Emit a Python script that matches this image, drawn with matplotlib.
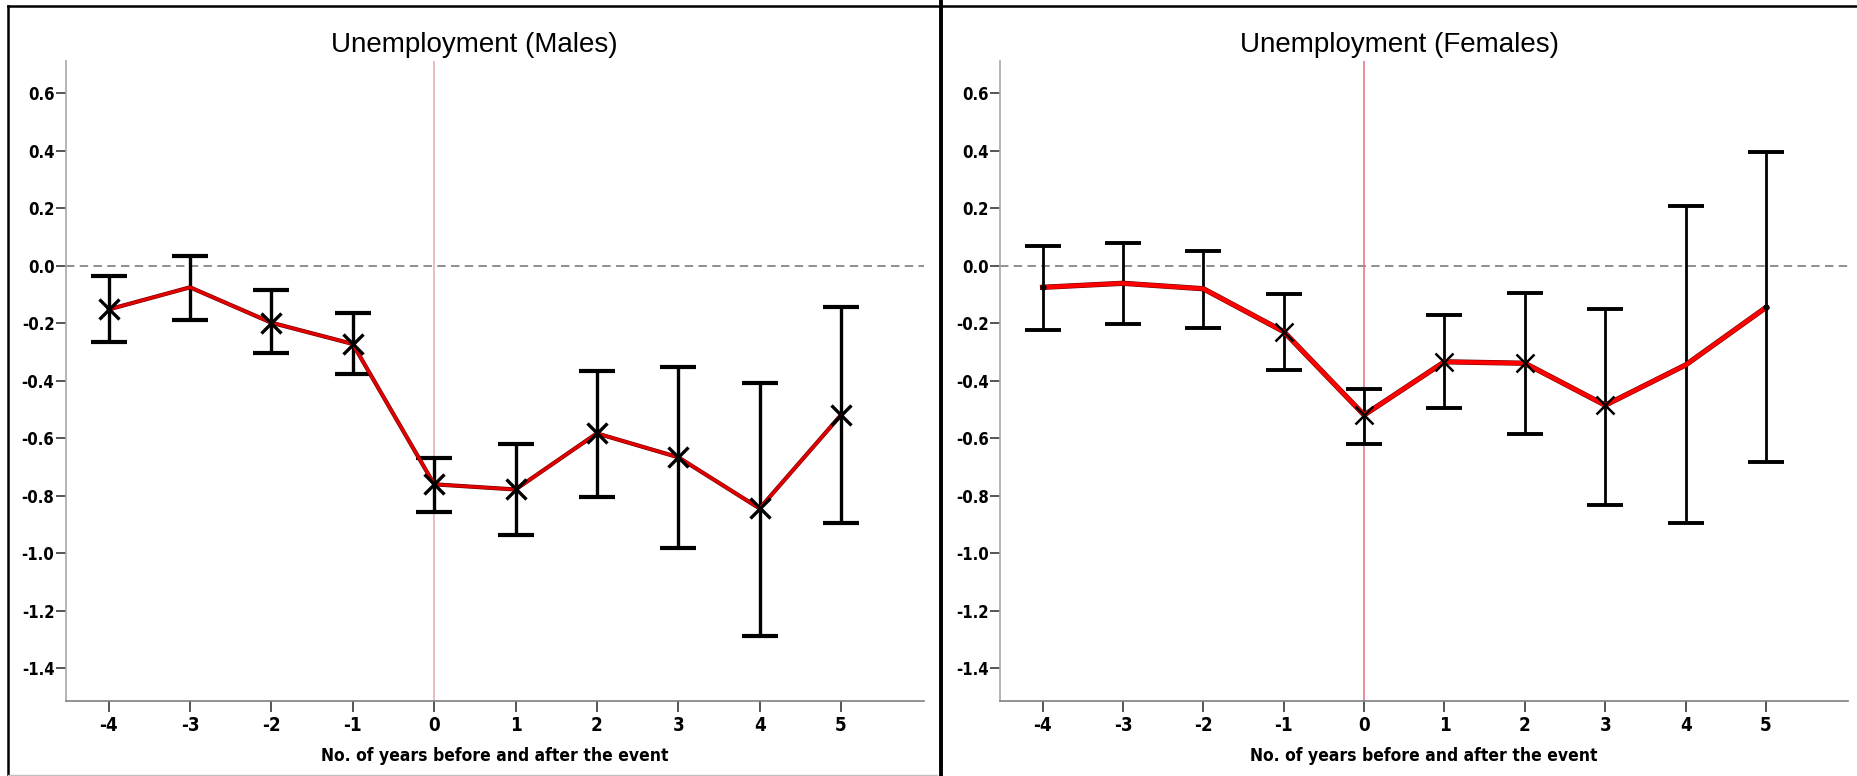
import matplotlib
matplotlib.use("Agg")
import matplotlib.pyplot as plt
import numpy as np
from matplotlib.lines import Line2D
from matplotlib import font_manager

years = [-4, -3, -2, -1, 0, 1, 2, 3, 4, 5]
yticks = [0.6, 0.4, 0.2, 0.0, -0.2, -0.4, -0.6, -0.8, -1.0, -1.2, -1.4]

male_est = [-0.152, -0.075, -0.198, -0.272, -0.760, -0.778, -0.583, -0.666, -0.844, -0.519]
male_lo = [-0.266, -0.189, -0.302, -0.377, -0.855, -0.936, -0.805, -0.980, -1.287, -0.896]
male_hi = [-0.036, 0.034, -0.085, -0.166, -0.670, -0.621, -0.366, -0.353, -0.406, -0.143]

fem_est = [-0.075, -0.061, -0.080, -0.229, -0.519, -0.334, -0.339, -0.485, -0.345, -0.145]
fem_lo = [-0.224, -0.203, -0.218, -0.363, -0.620, -0.494, -0.586, -0.832, -0.895, -0.684]
fem_hi = [0.070, 0.078, 0.051, -0.099, -0.430, -0.171, -0.094, -0.152, 0.209, 0.394]

# which points carry a cross marker / a small dot (as in the source)
male_cross = [-4, -2, -1, 0, 1, 2, 3, 4, 5]
fem_cross = [-1, 0, 1, 2, 3]
fem_dot = [-4, 5]

W, H = 1858, 776

# condensed bold face for the axis texts, if the condensed DejaVu file is there
cond = [f.fname for f in font_manager.fontManager.ttflist
        if f.name == "DejaVu Sans" and "Condensed" in f.fname and "Bold" in f.fname
        and "Oblique" not in f.fname]
if cond:
    NARROW = dict(fontproperties=font_manager.FontProperties(fname=cond[0]))
else:
    NARROW = dict(family="DejaVu Sans", fontweight="bold")


def fx(px):
    return px / W


def fy(py):
    return 1 - py / H


def txt(size):
    d = dict(NARROW)
    if "fontproperties" in d:
        fp = d["fontproperties"].copy()
        fp.set_size(size)
        return dict(fontproperties=fp)
    d["fontsize"] = size
    return d


def draw_panel(ax, est, lo, hi, line_lw, line_color, e_lw, cap_lw, vcolor):
    est = np.array(est)
    yerr = [est - np.array(lo), np.array(hi) - est]
    ax.axhline(0, color="#707070", lw=1.1, ls=(0, (5.5, 3.5)), zorder=1)
    ax.axvline(0, color=vcolor, lw=1.1, zorder=1)
    ax.errorbar(years, est, yerr=yerr, fmt="none", ecolor="black",
                elinewidth=e_lw, capsize=13, capthick=cap_lw, zorder=2)
    ax.plot(years, est, color="#700000", lw=line_lw + 0.8, solid_joinstyle="round", zorder=3)
    ax.plot(years, est, color=line_color, lw=line_lw, solid_joinstyle="round", zorder=3)
    ax.set_xlim(-4.53, 6.02)
    ax.set_ylim(-1.5125, 0.712)
    ax.set_yticks(yticks)
    ax.set_yticklabels([f"{v:.1f}" for v in yticks], **txt(12))
    ax.set_xticks(years)
    ax.set_xticklabels([str(v) for v in years], **txt(13.5))
    for side in ("top", "right"):
        ax.spines[side].set_visible(False)
    ax.spines["left"].set_color("#a8a8a8")
    ax.spines["bottom"].set_color("#808080")
    ax.spines["left"].set_linewidth(1.2)
    ax.spines["bottom"].set_linewidth(1.2)
    ax.tick_params(axis="y", length=7, width=1.4, color="#555555", pad=1)
    ax.tick_params(axis="x", length=8, width=1.4, color="#555555", pad=3)
    ax.set_xlabel("No. of years before and after the event", labelpad=9, **txt(12.5))


fig = plt.figure(figsize=(W / 100, H / 100), dpi=100)
ax1 = fig.add_axes([fx(65.5), fy(700.7), fx(924 - 65.5), (700.7 - 61) / H])
ax2 = fig.add_axes([fx(1000), fy(700.7), fx(1848 - 1000), (700.7 - 61) / H])

draw_panel(ax1, male_est, male_lo, male_hi, 2.2, "#e00000", 2.4, 3.0, "#e8a8b0")
idx = [years.index(v) for v in male_cross]
ax1.plot(male_cross, [male_est[i] for i in idx], ls="none", marker="x", ms=15,
         mew=2.4, color="black", zorder=4)

draw_panel(ax2, fem_est, fem_lo, fem_hi, 3.0, "#ff0000", 2.0, 2.8, "#e07080")
idx = [years.index(v) for v in fem_cross]
ax2.plot(fem_cross, [fem_est[i] for i in idx], ls="none", marker="x", ms=13,
         mew=1.8, color="black", zorder=4)
idx = [years.index(v) for v in fem_dot]
ax2.plot(fem_dot, [fem_est[i] for i in idx], ls="none", marker="o", ms=3.5,
         color="black", zorder=4)

fig.text(fx(474.5), fy(45), "Unemployment (Males)", ha="center", va="center",
         family=["Liberation Sans", "DejaVu Sans"], fontsize=20)
fig.text(fx(1400), fy(45), "Unemployment (Females)", ha="center", va="center",
         family=["Liberation Sans", "DejaVu Sans"], fontsize=20)

# panel frames
frame = [
    ([8, 8], [6, 776], "black", 1.8),
    ([8, 941], [6, 6], "black", 1.8),
    ([8, 937], [775, 775], "#c0c0c0", 1.0),
    ([941, 941], [0, 776], "black", 2.8),
    ([941, 1858], [6, 6], "black", 1.8),
]
for xs, ys, c, lw in frame:
    fig.add_artist(Line2D([fx(x) for x in xs], [fy(y) for y in ys], color=c, lw=lw,
                          transform=fig.transFigure))

fig.savefig("out.png", dpi=100)
